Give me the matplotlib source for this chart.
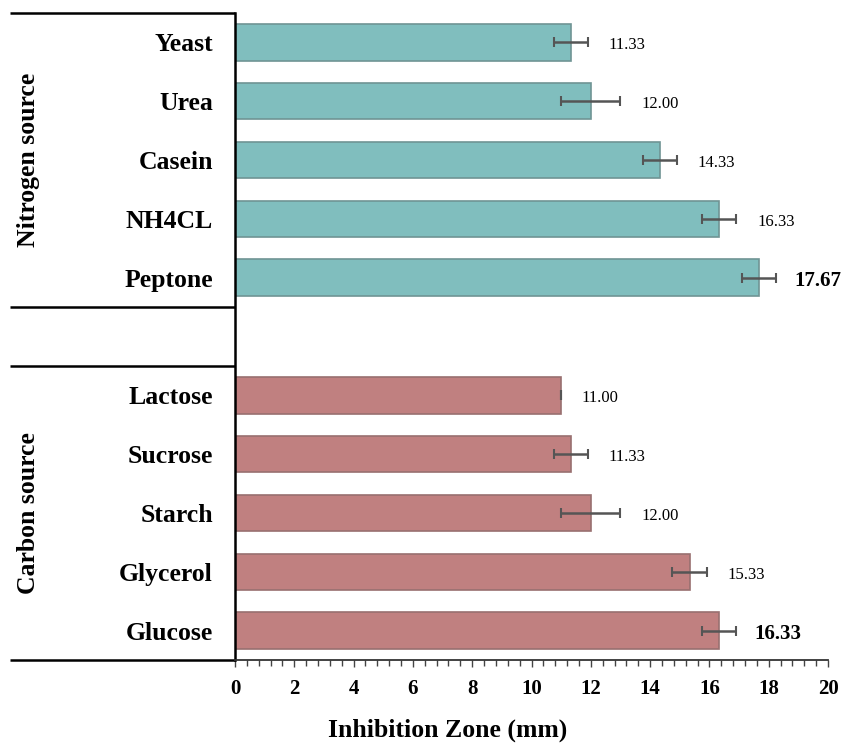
import numpy as np
import matplotlib.pyplot as plt
from matplotlib.ticker import MultipleLocator
import matplotlib.transforms as mtransforms

plt.rcParams['font.family'] = ['Liberation Serif', 'DejaVu Serif']

# Inhibition zone (mm) for each source, mean and error
nitrogen = ['Yeast', 'Urea', 'Casein', 'NH4CL', 'Peptone']
nitrogen_mean = [11.33, 12.00, 14.33, 16.33, 17.67]
nitrogen_err = [0.58, 1.00, 0.58, 0.58, 0.58]

carbon = ['Lactose', 'Sucrose', 'Starch', 'Glycerol', 'Glucose']
carbon_mean = [11.00, 11.33, 12.00, 15.33, 16.33]
carbon_err = [0.0, 0.58, 1.00, 0.58, 0.58]

fig = plt.figure(figsize=(8.45, 7.43), dpi=100)
ax = fig.add_axes([0.2781, 0.1117, 0.7018, 0.8708])

pos_n = np.arange(len(nitrogen))
pos_c = np.arange(len(carbon)) + len(nitrogen) + 1

bar_h = 0.62
ax.barh(pos_n, nitrogen_mean, height=bar_h, color='#80bebe', edgecolor='#6f9494', linewidth=1.2)
ax.barh(pos_c, carbon_mean, height=bar_h, color='#c08080', edgecolor='#987070', linewidth=1.2)
ax.errorbar(nitrogen_mean, pos_n, xerr=nitrogen_err, fmt='none', ecolor='#555555',
            elinewidth=1.8, capsize=3.5, capthick=1.5)
ax.errorbar(carbon_mean, pos_c, xerr=carbon_err, fmt='none', ecolor='#555555',
            elinewidth=1.8, capsize=3.5, capthick=1.5)

# value labels, the best of each group in bold
for means, errs, pos in [(nitrogen_mean, nitrogen_err, pos_n), (carbon_mean, carbon_err, pos_c)]:
    best = int(np.argmax(means))
    for i, (m, e, p) in enumerate(zip(means, errs, pos)):
        if i == best:
            ax.text(m + e + 0.6, p + 0.05, f'{m:.2f}', va='center', ha='left',
                    fontsize=15, fontweight='bold')
        else:
            ax.text(m + e + 0.7, p + 0.05, f'{m:.2f}', va='center', ha='left', fontsize=12)

ax.set_yticks(list(pos_n) + list(pos_c))
ax.set_yticklabels(nitrogen + carbon, fontsize=18.5, fontweight='bold')
ax.tick_params(axis='y', length=0, pad=16)
ax.set_ylim(len(nitrogen) + len(carbon) + 0.5, -0.5)

ax.set_xlim(0, 20)
ax.xaxis.set_major_locator(MultipleLocator(2))
ax.xaxis.set_minor_locator(MultipleLocator(0.4))
ax.tick_params(axis='x', which='major', length=5, width=1, color='#444444',
               labelsize=15, pad=9)
ax.tick_params(axis='x', which='minor', length=4, width=1, color='#444444')
for lab in ax.get_xticklabels():
    lab.set_fontweight('bold')
ax.set_xlabel('Inhibition Zone (mm)', fontsize=18.5, fontweight='bold')
ax.xaxis.set_label_coords(0.359, -0.09)

for side in ['top', 'right']:
    ax.spines[side].set_visible(False)
ax.spines['left'].set_linewidth(1.8)
ax.spines['bottom'].set_linewidth(1.3)
ax.spines['bottom'].set_color('#333333')

# group boxes on the left of the axis
trans = mtransforms.blended_transform_factory(ax.transAxes, ax.transData)
x0 = -0.379
for yl in [-0.5, len(nitrogen) - 0.5, len(nitrogen) + 0.5, len(nitrogen) + len(carbon) + 0.5]:
    ax.plot([x0, 0], [yl, yl], color='black', linewidth=1.8, transform=trans,
            clip_on=False, solid_capstyle='butt')

ax.text(-0.348, pos_n.mean(), 'Nitrogen source', rotation=90, va='center', ha='center',
        fontsize=18.5, fontweight='bold', transform=trans)
ax.text(-0.348, pos_c.mean(), 'Carbon source', rotation=90, va='center', ha='center',
        fontsize=18.5, fontweight='bold', transform=trans)

fig.savefig('out.png', dpi=100)
